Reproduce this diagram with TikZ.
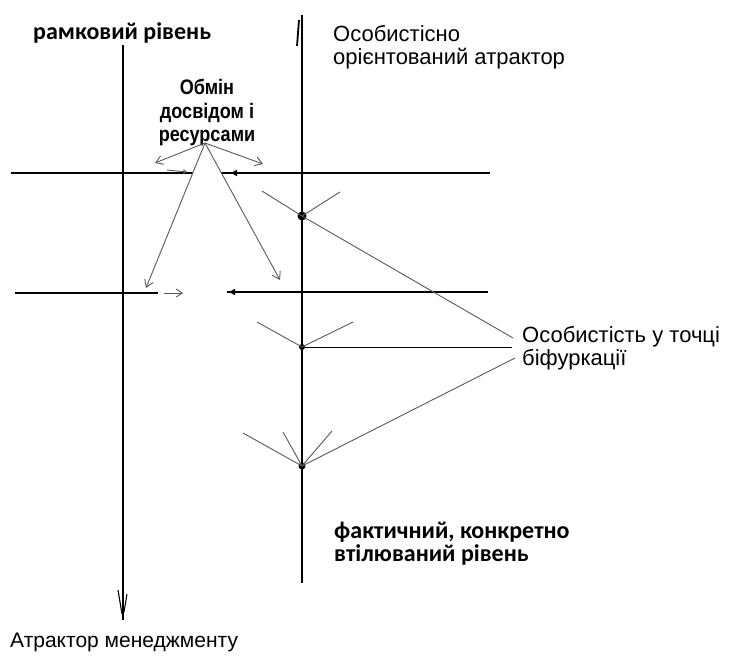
\documentclass[tikz,border=0pt]{standalone}
\usepackage{fontspec}
\setmainfont{Liberation Sans}
\newfontfamily\calibrifont{Carlito}
\newfontfamily\narrowfont[FakeStretch=0.86]{Liberation Sans}
\usetikzlibrary{arrows.meta,positioning}

\begin{document}
\begin{tikzpicture}[x=1pt,y=-1pt,
    axis/.style={black, line width=1.6pt},
    levelline/.style={black, line width=1.1pt},
    sketch/.style={black!65, line width=0.9pt},
    flow/.style={black!65, line width=0.9pt, -{Straight Barb[length=7pt,width=9pt]}},
    dot/.style={circle, fill=black, inner sep=0pt, minimum size=6pt},
    txt/.style={font=\fontsize{22}{23.5}\selectfont, align=left, inner sep=0pt},
    boldtxt/.style={font=\calibrifont\bfseries\fontsize{24}{23}\selectfont, align=left, inner sep=0pt},
    >=Stealth
  ]
  \useasboundingbox (0,0) rectangle (733,657);

  % Labels
  \node[boldtxt, anchor=base west] (frame) at (33,39) {рамковий рівень};
  \node[txt, anchor=north west] (persattr) at (333,25) {Особистісно\\орієнтований атрактор};
  \node[txt, font=\narrowfont\bfseries\fontsize{21}{23.5}\selectfont, align=center, anchor=north] (swap) at (207,79) {Обмін\\досвідом і\\ресурсами};
  \node[txt, anchor=north west] (bif) at (522,326) {Особистість у точці\\біфуркації};
  \node[boldtxt, anchor=north west] (fact) at (334,522) {фактичний, конкретно\\втілюваний рівень};
  \node[txt, font=\fontsize{21}{23}\selectfont, anchor=base west] (mgmt) at (10,647) {Атрактор менеджменту};

  % Two levels
  \coordinate (Ltop) at (123,45);
  \coordinate (Lbot) at (123,620);
  \coordinate (Rtop) at (302,15);
  \coordinate (Rbot) at (302,583);
  \draw[axis] (Ltop) -- (Lbot);
  \draw[axis, line width=2.2pt] (Rtop) -- (Rbot);
  \draw[axis, line width=1.8pt] (299,20) -- (297,46);
  \draw[axis, line width=1.1pt] (118,590) -- (122,614);
  \draw[axis, line width=1pt] (127,594) -- (124,612);

  % Horizontal lines
  \coordinate (h1a) at (11,173);
  \coordinate (h1b) at (193,173);
  \coordinate (h1c) at (221,173);
  \coordinate (h1d) at (490,173);
  \coordinate (h2a) at (15,293);
  \coordinate (h2b) at (158,293);
  \coordinate (h2c) at (227,292);
  \coordinate (h2d) at (488,292);
  \draw[levelline] (h1a) -- (h1b);
  \draw[levelline] (h1c) -- (h1d);
  \draw[levelline] (h2a) -- (h2b);
  \draw[levelline] (h2c) -- (h2d);
  \draw[sketch, -{Straight Barb[length=3pt,width=4pt]}] (167,170) -- (187,172);
  \draw[black, line width=2.4pt, -{Triangle[length=6pt,width=6pt]}] (247,173) -- (231,173);
  \draw[sketch, -{Straight Barb[length=6pt,width=8pt]}] (164,293) -- (183,293);
  \draw[black, line width=2.4pt, -{Triangle[length=6pt,width=6pt]}] (252,292) -- (229,292);

  % Exchange arrows
  \coordinate (apex) at (205,143);
  \draw[flow] (apex) -- (155,163);
  \draw[flow] (apex) -- (263,164);
  \draw[flow] (apex) -- (146,288);
  \draw[flow] (apex) -- (280,280);

  % Bifurcation points
  \node[dot, minimum size=9pt] (b1) at (302,216) {};
  \node[dot] (b2) at (302,347) {};
  \node[dot, minimum size=7pt] (b3) at (302,466) {};
  \coordinate (t1) at (513,338);
  \coordinate (t2) at (512,347);
  \coordinate (t3) at (515,358);
  \draw[sketch] (262,191) -- (b1.center) -- (t1);
  \draw[sketch] (b1.center) -- (340,192);
  \draw[sketch] (257,322) -- (b2.center) -- (353,322);
  \draw[black, line width=0.9pt] (b2.center) -- (t2);
  \draw[sketch] (243,433) -- (b3.center);
  \draw[sketch] (283,432) -- (b3.center);
  \draw[sketch] (332,431) -- (b3.center);
  \draw[sketch] (b3.center) -- (t3);
\end{tikzpicture}
\end{document}
